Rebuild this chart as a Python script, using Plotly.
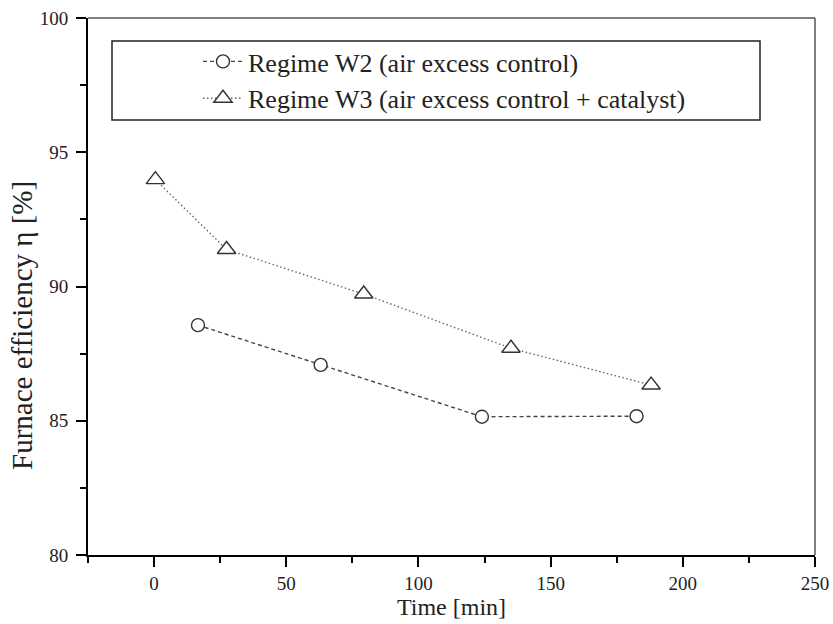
import plotly.graph_objects as go

# Data
w2_time = [16.6, 63.0, 124.0, 182.5]
w2_eff = [88.56, 87.08, 85.15, 85.17]
w3_time = [0.5, 27.4, 79.3, 135.0, 188.0]
w3_eff = [93.98, 91.38, 89.72, 87.70, 86.33]

w2_name = "Regime W2 (air excess control)"
w3_name = "Regime W3 (air excess control + catalyst)"
x_title = "Time [min]"
y_title = "Furnace efficiency η [%]"

FONT = "Liberation Serif, Times New Roman, serif"

fig = go.Figure()
fig.add_trace(go.Scatter(
    x=w2_time, y=w2_eff, mode="lines+markers", name=w2_name,
    line=dict(color="#444444", width=1.4, dash="4px,3px"),
    marker=dict(symbol="circle", size=13, color="white",
                line=dict(color="#333333", width=1.4)),
))
fig.add_trace(go.Scatter(
    x=w3_time, y=w3_eff, mode="lines+markers", name=w3_name,
    line=dict(color="#666666", width=1.4, dash="1.5px,2.5px"),
    marker=dict(symbol="triangle-up", size=16, color="white",
                line=dict(color="#333333", width=1.4)),
))

axis_common = dict(
    showgrid=False, zeroline=False, showline=True, linecolor="black",
    linewidth=2, ticks="outside", ticklen=10, tickwidth=2, tickcolor="black",
    tickfont=dict(family=FONT, size=19, color="#222222"),
    automargin=False,
)

fig.update_xaxes(
    range=[-25, 250], tick0=0, dtick=50,
    minor=dict(ticks="outside", ticklen=6, tickwidth=2, tickcolor="black", dtick=25, tick0=0),
    title_text=x_title, title_standoff=3, ticklabelstandoff=0,
    title_font=dict(family=FONT, size=24, color="#222222"),
    **axis_common,
)
fig.update_yaxes(
    range=[80, 100], tick0=80, dtick=5,
    minor=dict(ticks="outside", ticklen=6, tickwidth=2, tickcolor="black", dtick=2.5, tick0=80),
    ticklabelstandoff=4,
    **axis_common,
)

# y-axis title (placed as in the reference, slightly below axis centre)
fig.add_annotation(
    text=y_title, xref="paper", yref="paper",
    x=(22 - 88) / 727, y=(555 - 326) / 537, xanchor="center", yanchor="middle",
    textangle=-90, showarrow=False,
    font=dict(family=FONT, size=29, color="#222222"),
)

# frame top/right (thinner, grey) and legend box
fig.add_shape(type="line", xref="paper", yref="paper", x0=0, x1=1, y0=1, y1=1,
              line=dict(color="#555555", width=1.5))
fig.add_shape(type="line", xref="paper", yref="paper", x0=1, x1=1, y0=0, y1=1,
              line=dict(color="#555555", width=1.5))
fig.add_shape(type="rect", xref="paper", yref="paper",
              x0=(112 - 88) / 727, x1=(760 - 88) / 727,
              y0=(555 - 120) / 537, y1=(555 - 41) / 537,
              line=dict(color="#222222", width=1.5), fillcolor="rgba(0,0,0,0)")

fig.update_layout(
    width=833, height=624,
    margin=dict(l=88, r=18, t=18, b=69),
    paper_bgcolor="white", plot_bgcolor="white",
    showlegend=True,
    legend=dict(
        x=(198 - 88) / 727, y=(555 - 38) / 537, xanchor="left", yanchor="top",
        bgcolor="rgba(0,0,0,0)", borderwidth=0,
        font=dict(family=FONT, size=26, color="#222222"),
        tracegroupgap=0, itemwidth=40,
    ),
)

fig.write_html("out.html")
